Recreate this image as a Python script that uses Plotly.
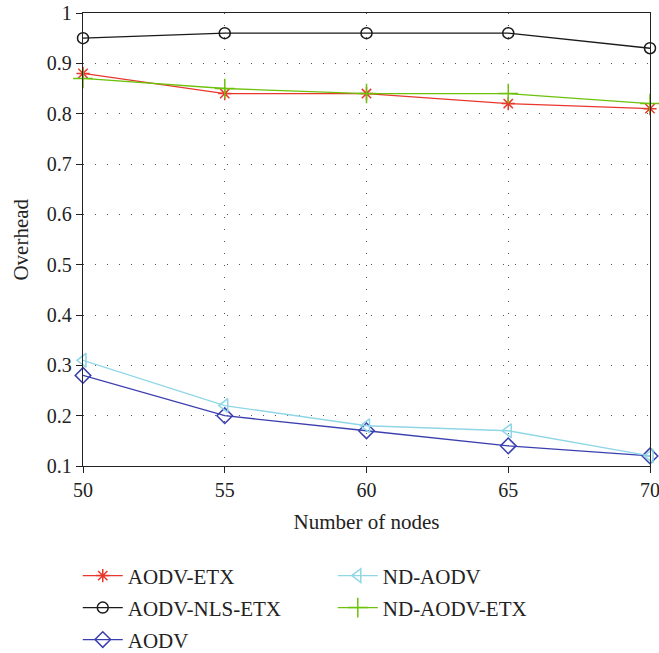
import plotly.graph_objects as go

nodes = [50, 55, 60, 65, 70]
aodv_etx = [0.88, 0.84, 0.84, 0.82, 0.81]
aodv_nls_etx = [0.95, 0.96, 0.96, 0.96, 0.93]
aodv = [0.28, 0.20, 0.17, 0.14, 0.12]
nd_aodv = [0.31, 0.22, 0.18, 0.17, 0.12]
nd_aodv_etx = [0.87, 0.85, 0.84, 0.84, 0.82]

y_ticks = [0.1, 0.2, 0.3, 0.4, 0.5, 0.6, 0.7, 0.8, 0.9, 1]
y_labels = ["0.1", "0.2", "0.3", "0.4", "0.5", "0.6", "0.7", "0.8", "0.9", "1"]

FONT = "Liberation Serif"

# name, values, colour, symbol, size, legend id, legend x (container), legend y (container)
series = [
    ("AODV-ETX", aodv_etx, "#e8372c", "asterisk-open", 11, "legend2", 0.118, 0.118),
    ("AODV-NLS-ETX", aodv_nls_etx, "#1a1a1a", "circle-open", 11, "legend3", 0.118, 0.069),
    ("AODV", aodv, "#3b3fae", "diamond-open", 12, "legend4", 0.118, 0.020),
    ("ND-AODV", nd_aodv, "#8fd6e6", "triangle-left-open", 12, "legend5", 0.505, 0.118),
    ("ND-AODV-ETX", nd_aodv_etx, "#6cc10a", "cross-thin-open", 14, "legend6", 0.505, 0.069),
]

fig = go.Figure()
legends = {}
for name, vals, col, sym, sz, lg, lx, ly in series:
    fig.add_trace(go.Scatter(
        x=nodes, y=vals, name=name, mode="lines+markers",
        line=dict(color=col, width=1.3),
        marker=dict(symbol=sym, size=sz, color=col, line=dict(color=col, width=1.5)),
        legend=lg, cliponaxis=False,
    ))
    legends[lg] = dict(
        x=lx, y=ly, xref="container", yref="container",
        xanchor="left", yanchor="middle",
        font=dict(family=FONT, size=21, color="#222"), bgcolor="rgba(0,0,0,0)",
        itemwidth=40, tracegroupgap=0,
    )

axis_common = dict(
    showline=True, linecolor="#222", linewidth=1.3, mirror=True,
    ticks="outside", ticklen=6, tickwidth=1.3, tickcolor="#222",
    showgrid=True, gridcolor="#555", gridwidth=1, griddash="1px,11px",
    zeroline=False, automargin=False, ticklabeloverflow="allow",
    tickfont=dict(family=FONT, size=20, color="#222"),
)

fig.update_xaxes(range=[50, 70], tickvals=nodes, ticktext=[str(n) for n in nodes],
                 title=dict(text="Number of nodes", font=dict(family=FONT, size=21, color="#222"), standoff=14),
                 **axis_common)
fig.update_yaxes(range=[0.1, 1], tickvals=y_ticks, ticktext=y_labels, **axis_common)

fig.add_annotation(
    text="Overhead", textangle=-90, showarrow=False,
    xref="paper", yref="paper", x=-0.111, y=0.5, xanchor="center", yanchor="middle",
    font=dict(family=FONT, size=21, color="#222"),
)

fig.update_layout(
    width=659, height=653,
    margin=dict(l=83, r=9, t=13, b=187, autoexpand=False),
    plot_bgcolor="white", paper_bgcolor="white",
    legend=dict(visible=False),
    **legends,
)

fig.write_html("out.html")
